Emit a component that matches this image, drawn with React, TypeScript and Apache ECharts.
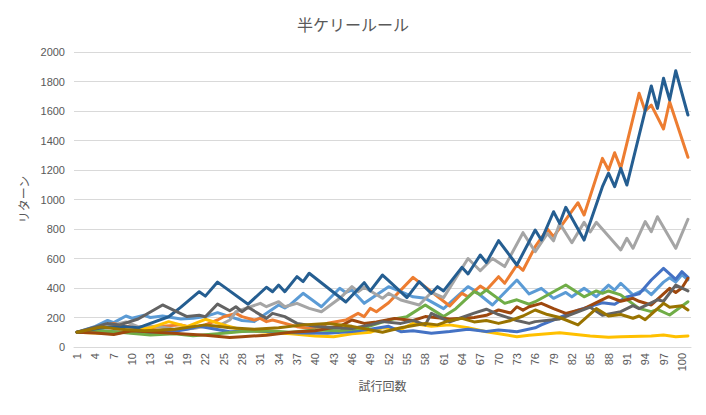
import React, { useEffect, useRef } from "react";
import * as echarts from "echarts";

// Trials 1..101 (category labels)
const trials: string[] = [
  "1","2","3","4","5","6","7","8","9","10","11","12","13","14","15","16","17","18","19","20",
  "21","22","23","24","25","26","27","28","29","30","31","32","33","34","35","36","37","38","39","40",
  "41","42","43","44","45","46","47","48","49","50","51","52","53","54","55","56","57","58","59","60",
  "61","62","63","64","65","66","67","68","69","70","71","72","73","74","75","76","77","78","79","80",
  "81","82","83","84","85","86","87","88","89","90","91","92","93","94","95","96","97","98","99","100","101",
];

// Vertices: [trial, return]
const s1: number[][] = [[1,100],[4,140],[6,180],[7,165],[9,210],[10,195],[12,215],[13,200],[15,210],[18,190],[20,195],[22,206],[24,233],[26,206],[28,180],[30,172],[34,285],[35,265],[36,290],[38,364],[41,273],[44,398],[45,370],[46,385],[48,296],[52,409],[54,375],[56,340],[58,330],[61,260],[65,409],[66,385],[69,285],[73,454],[75,360],[77,398],[79,330],[81,370],[82,340],[84,398],[86,341],[88,420],[89,386],[90,432],[92,353],[94,390],[95,355],[97,440],[98,470],[99,440],[100,490],[101,455]];
const s2: number[][] = [[1,100],[5,140],[7,160],[9,140],[12,125],[15,140],[18,150],[20,130],[22,150],[24,183],[25,205],[27,228],[28,206],[30,183],[31,194],[32,172],[33,183],[37,138],[39,127],[41,138],[42,161],[45,183],[47,228],[48,206],[49,262],[50,239],[52,300],[56,472],[62,278],[64,364],[65,340],[67,413],[68,386],[70,477],[71,432],[73,556],[74,520],[76,680],[78,800],[79,748],[83,978],[84,895],[87,1279],[88,1200],[89,1317],[90,1211],[93,1720],[94,1600],[95,1640],[97,1478],[98,1663],[101,1286]];
const s3: number[][] = [[1,100],[5,130],[9,170],[11,138],[14,140],[17,120],[20,125],[22,140],[24,140],[26,183],[27,239],[31,296],[32,273],[34,307],[35,273],[37,296],[39,262],[41,239],[44,330],[46,409],[47,375],[48,405],[51,330],[52,364],[54,319],[57,285],[59,370],[61,335],[65,600],[67,517],[69,600],[71,545],[74,775],[76,646],[78,770],[79,720],[80,838],[82,707],[84,845],[85,780],[86,845],[90,658],[91,737],[92,669],[94,850],[95,782],[96,883],[99,669],[101,866]];
const s4: number[][] = [[1,100],[4,95],[7,90],[10,110],[13,130],[16,172],[19,138],[22,188],[25,150],[28,115],[32,100],[36,90],[40,75],[43,70],[46,90],[49,100],[51,130],[54,120],[56,160],[59,140],[62,150],[65,130],[68,104],[73,70],[75,80],[78,90],[80,97],[85,75],[88,66],[90,70],[95,75],[97,81],[99,70],[101,75]];
const s5: number[][] = [[1,100],[5,110],[8,100],[12,95],[16,100],[19,120],[21,140],[23,125],[26,104],[30,110],[34,100],[38,95],[42,93],[46,105],[49,120],[52,140],[54,104],[56,110],[59,93],[62,105],[65,120],[68,105],[70,115],[73,104],[76,130],[77,150],[80,200],[83,250],[85,275],[87,300],[89,290],[91,340],[93,360],[95,454],[97,533],[99,459],[100,511],[101,473]];
const s6: number[][] = [[1,100],[5,110],[8,100],[13,81],[17,90],[20,77],[24,90],[28,105],[32,110],[36,100],[40,115],[44,110],[48,130],[52,183],[55,206],[58,285],[61,206],[63,260],[66,375],[67,355],[68,386],[71,296],[73,320],[75,290],[76,307],[81,420],[84,340],[86,380],[87,364],[88,380],[90,353],[93,262],[95,240],[96,255],[98,217],[101,307]];
const s7: number[][] = [[1,100],[5,130],[8,140],[11,130],[13,160],[16,205],[18,270],[21,375],[22,345],[24,440],[29,290],[32,405],[33,375],[34,420],[35,375],[37,477],[38,443],[39,500],[45,305],[48,436],[49,380],[51,488],[52,450],[55,335],[57,443],[59,364],[60,409],[61,380],[64,540],[65,495],[67,624],[68,572],[70,721],[73,556],[76,793],[77,725],[79,917],[80,838],[81,947],[84,725],[87,1087],[88,1178],[89,1087],[90,1211],[91,1098],[95,1770],[96,1618],[97,1822],[98,1675],[99,1873],[101,1573]];
const s8: number[][] = [[1,100],[4,95],[7,85],[10,110],[14,100],[18,90],[22,80],[26,65],[28,70],[32,80],[36,100],[40,110],[44,140],[46,183],[48,160],[50,170],[53,194],[56,180],[58,206],[62,190],[66,200],[68,215],[70,251],[72,230],[73,273],[74,250],[75,273],[77,296],[79,260],[81,228],[84,260],[88,341],[90,310],[92,330],[93,310],[95,285],[98,398],[99,370],[100,400],[101,466]];
const s9: number[][] = [[1,100],[6,160],[8,150],[11,190],[15,285],[19,206],[21,215],[22,205],[24,291],[26,246],[27,273],[28,239],[29,269],[32,194],[33,228],[35,206],[37,160],[40,140],[43,130],[46,125],[49,150],[51,172],[54,160],[56,180],[58,150],[59,228],[62,170],[64,200],[66,230],[68,256],[70,220],[73,180],[75,160],[76,172],[80,190],[85,270],[87,215],[90,240],[92,280],[93,260],[96,320],[97,310],[99,420],[101,380]];
const s10: number[][] = [[1,100],[5,135],[8,120],[12,110],[17,120],[22,150],[26,130],[30,120],[34,130],[38,150],[42,160],[46,140],[51,100],[54,130],[58,160],[60,150],[62,180],[64,194],[66,170],[68,180],[70,160],[72,180],[74,210],[76,251],[78,220],[80,200],[83,150],[86,260],[88,210],[90,220],[92,195],[93,210],[94,185],[97,296],[98,270],[100,280],[101,251]];

const seriesList = [s1, s2, s3, s4, s5, s6, s7, s8, s9, s10];
const colors = ["#5B9BD5","#ED7D31","#A5A5A5","#FFC000","#4472C4","#70AD47","#255E91","#9E480E","#636363","#997300"];
const yTicks = { min: 0, max: 2000, interval: 200 };

export default function App() {
  const ref = useRef<HTMLDivElement>(null);
  useEffect(() => {
    if (!ref.current) return;
    const chart = echarts.init(ref.current, undefined, { renderer: "svg" });
    chart.setOption({
      animation: false,
      backgroundColor: "#ffffff",
      title: {
        text: "半ケリールール",
        left: "center",
        top: 11,
        textStyle: { fontSize: 16, fontWeight: "normal", color: "#595959", fontFamily: "Noto Sans CJK JP" },
      },
      grid: { left: 74, right: 15, top: 52, bottom: 68, containLabel: false },
      xAxis: {
        type: "category",
        data: trials,
        boundaryGap: true,
        name: "試行回数",
        nameLocation: "middle",
        nameGap: 31,
        nameTextStyle: { fontSize: 12, color: "#595959", fontFamily: "Noto Sans CJK JP" },
        axisLine: { lineStyle: { color: "#D9D9D9", width: 1 } },
        axisTick: { show: false },
        axisLabel: { interval: 2, rotate: 90, fontSize: 11, color: "#595959", fontFamily: "Liberation Sans", margin: 6 },
        splitLine: { show: false },
      },
      yAxis: {
        type: "value",
        min: yTicks.min,
        max: yTicks.max,
        interval: yTicks.interval,
        name: "リターン",
        nameLocation: "middle",
        nameRotate: 90,
        nameGap: 33,
        nameTextStyle: { fontSize: 12, color: "#595959", fontFamily: "Noto Sans CJK JP" },
        axisLine: { show: false },
        axisTick: { show: false },
        axisLabel: {
          fontSize: 11,
          color: "#595959",
          fontFamily: "Liberation Sans",
          margin: 9,
          formatter: (v: number) => String(v),
        },
        splitLine: { lineStyle: { color: "#D9D9D9", width: 1 } },
      },
      series: seriesList.map((s, k) => ({
        type: "line",
        name: "系列" + (k + 1),
        data: s.map(([t, v]) => [t - 1, v]),
        showSymbol: false,
        symbol: "none",
        color: colors[k],
        lineStyle: { width: 3, color: colors[k], cap: "round", join: "round" },
      })),
    });
    return () => chart.dispose();
  }, []);
  return <div ref={ref} style={{ position: "absolute", left: 0, top: 0, width: 706, height: 415 }} />;
}
